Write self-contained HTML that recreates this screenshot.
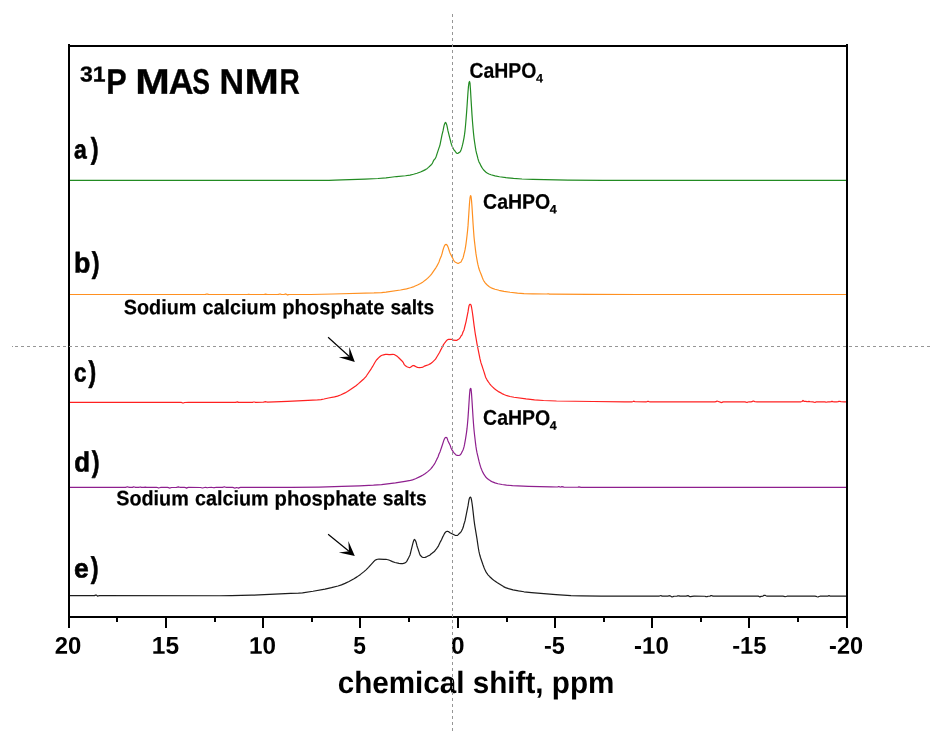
<!DOCTYPE html>
<html><head><meta charset="utf-8"><title>31P MAS NMR</title>
<style>html,body{margin:0;padding:0;background:#fff}svg{display:block;will-change:transform}</style></head>
<body>
<svg width="949" height="745" viewBox="0 0 949 745">
<rect width="949" height="745" fill="#fff"/>
<g>
<path d="M68.5 180.45L329 180.45L335 180.18L342 179.8L365 179.12L378 178.5L386 177.86L391 177.27L396.5 176.53L405.5 175.76L410 175.05L413.5 174.28L417 173.24L420.5 171.94L423.5 170.65L425.5 169.6L427 168.63L428.5 167.35L431.5 164.45L432 163.9L432.5 163L433.5 160.85L434 159.9L435 158.9L435.5 157.94L436 156.9L436.5 155.45L437 153.85L438.5 149.41L439 147.9L439.5 146.5L440 144.8L440.5 142.42L442 134.9L443 130.9L443.5 128.31L444 125.9L444.5 124.14L445 123L445.5 122.5L446 123L446.5 124.16L447 125.9L447.5 128.34L448 130.9L448.5 132.94L450 138.9L450.5 140.98L451 142.9L451.5 144.49L452 145.9L452.5 147.02L453.5 149.01L454 149.9L454.5 150.51L455 151L456 152.5L456.5 152.99L457 153.34L457.5 153.5L458 153.35L459 152.6L459.5 152.37L460 152L460.5 151.16L461 150L461.5 148.58L462 146.9L462.5 144.97L463 142.8L463.5 140.48L464 137.8L464.5 134.7L465 130.8L465.5 125.7L466 119.8L466.5 113.61L467 106.8L467.5 99.24L468 92L468.5 86.14L469 82.5L469.5 81.5L470 83.2L470.5 89.97L471 98.7L471.5 106.91L472 114.9L472.5 121.78L473 127.7L473.5 133.13L474 137.8L474.5 141.5L475.5 148.07L476 150.9L476.5 153.06L477 154.9L477.5 156.95L478 158.9L478.5 160.54L479 161.9L479.5 162.91L480 163.8L481 165.9L482 167.58L483 169.02L484 170.26L485 171.32L486 172.21L487.5 173.24L489 173.99L491 174.75L495 175.85L499.5 176.74L506 177.68L513.5 178.44L522 179.01L533 179.35L568 180.03L603 180.47L847 180.45" fill="none" stroke="#228b22" stroke-width="1.2" stroke-linejoin="round"/>
<path d="M68.5 294.5L204.5 294.49L205.5 294.37L206.5 294.03L207.5 294.16L208.5 294.45L213.5 294.5L247.5 294.48L248.5 294.23L250.5 294.5L263.5 294.5L264.5 294.39L265.5 294.06L267.5 294.49L277.5 294.5L278.5 294.45L279.5 294.04L280.5 294.17L281.5 294.48L283.5 294.49L284.5 294.29L285.5 293.94L286.5 294.34L287.5 295.03L288.5 294.62L289.5 294.5L310.5 294.48L333 293.98L374 292.95L381.5 292.55L386 292.06L400.5 289.99L406.5 288.82L410.5 287.78L414 286.57L417.5 285.04L420.5 283.46L423 281.89L425.5 280.06L427.5 278.38L429.5 276.44L430.5 275.34L431.5 274.06L436 267.54L437 265.9L438 264L438.5 263L439 261.9L439.5 260.44L440 258.9L441 256.85L441.5 255.43L442 253.85L443 249.95L443.5 248.35L444 246.9L444.5 245.79L445 245L445.5 244.49L446 244.4L446.5 244.56L447 245L447.5 245.81L448 246.9L448.5 248.36L449.5 251.49L450 252.9L450.5 253.96L452.5 257.86L453.5 259.94L454 260.8L455 261.9L455.5 262.25L458 263.5L458.5 263.32L459 263L460.5 262.26L461 261.9L461.5 260.96L462 259.85L462.5 258.99L463 257.9L463.5 256.06L464 253.9L464.5 252.03L465 249.9L465.5 247.12L466 243.8L466.5 240.01L467 235.7L467.5 231.29L468 225.9L468.5 218.55L469 210.7L469.5 203.25L470 197.8L470.5 195.57L471 196.2L471.5 200.22L472 206.8L473 222.8L473.5 230L474 236.7L474.5 241.69L475 245.75L475.5 250.09L476 253.9L476.5 256.99L477 259.8L477.5 262.52L478 264.9L478.5 266.98L479 268.8L479.5 270.32L480 271.6L481 274.06L482.5 278.04L483 279.24L483.5 280.28L484 281.11L485 282.55L486 283.79L487.5 285.34L489 286.56L490.5 287.46L492.5 288.37L495 289.24L499 290.29L504 291.34L510 292.27L517.5 293.09L524 293.55L533 293.79L546.5 294L548 293.76L548.5 293.78L549.5 294.17L550 294.21L551.5 294.09L588 294.45L639 294.5L847 294.5" fill="none" stroke="#ff9020" stroke-width="1.2" stroke-linejoin="round"/>
<path d="M68.5 402.45L181.5 402.47L182.5 402.87L183.5 403.01L184.5 402.5L188.5 402.45L235.5 402.44L237.5 401.88L238.5 402.35L239.5 402.46L251.5 402.44L252.5 402.32L253.5 401.99L254.5 402.01L255.5 402.32L256.5 402.4L262.5 402.25L263.5 402.13L264.5 401.82L265.5 401.7L266.5 401.96L267.5 402.07L287.5 401.29L308 400.28L317.5 399.89L321 399.59L324 399.01L328.5 398.02L334.5 396.89L337.5 396.09L340.5 394.96L345 392.91L347.5 391.53L350.5 389.59L356 385.66L358.5 383.65L362 380.46L364 378.68L365.5 377.08L366.5 375.79L371.5 368.3L372.5 366.68L375 362.24L376 360.71L377 359.49L378.5 357.88L380 356.52L381 355.79L382 355.28L383.5 354.81L385.5 354.41L387 354.35L389 354.55L390 354.67L393 354.43L394 354.52L394.5 354.67L395.5 355.19L397.5 356.6L398.5 357.48L402 360.96L403 362.1L403.5 363.04L404 364.14L404.5 364.81L405.5 365.77L406.5 366.52L407.5 367.05L409 367.53L409.5 367.62L410 367.51L410.5 367.24L411.5 366.53L413 365.61L413.5 365.47L414 365.61L417 367.16L417.5 367.34L419.5 367.53L421.5 367.46L422 367.4L422.5 367.26L423.5 366.69L424.5 366.07L426.5 365.41L428.5 364.69L430.5 363.64L432 362.58L433.5 361.17L435 359.63L435.5 359.06L436.5 357.47L439.5 352.52L440.5 350.41L442.5 346.8L443 345.63L443.5 344.64L445 342.52L446.5 340.67L447 340.15L447.5 339.78L448.5 339.4L449.5 339.39L451.5 339.38L452 339.47L452.5 339.86L453 340.15L456 340.44L456.5 340.4L457 340.18L458 339.5L459 338.9L459.5 338.47L460 337.9L460.5 337L461 336L461.5 335.53L462 334.9L462.5 333.54L463 332L463.5 331.04L464 329.9L464.5 327.9L465 325.75L465.5 323.85L466 321.85L468 311.9L468.5 308.56L469 305.8L469.5 304.77L470 304.3L470.5 304.33L471 305L471.5 307.01L472 310L472.5 313.27L473 316.9L473.5 320.9L474 324.8L475 332L475.5 335.1L476 337.9L476.5 340.94L477 343.85L477.5 346.42L479 353.9L479.5 356.48L480 358.9L480.5 360.98L481 362.9L481.5 364.4L482 365.8L482.5 367.39L484 371.9L484.5 373.5L485 375.2L485.5 376.78L486 378L487 379.82L488 381.43L489.5 383.52L491 385.31L492.5 386.88L494.5 388.69L496.5 390.24L499 391.89L502 393.6L504.5 394.77L507 395.7L510 396.5L514 397.24L526 398.95L534.5 399.86L543.5 400.52L556.5 401L593 401.52L625 401.82L632 401.81L633 401.54L634 401.19L635 401.76L646 401.79L647 401.62L648 401.28L649 401.65L650 401.8L715 401.8L716 401.71L717 401.03L719 401.79L720 401.91L721 402.54L722 402.42L723 401.87L725 401.8L745 401.83L747 402.56L748 402.01L749 401.81L751 401.8L752 401.71L753 401.1L754 401.17L755 401.73L757 401.8L801 401.8L802 401.49L803 400.39L804 401.41L805 401.23L806 401.4L807 401.75L809 401.43L810 401.76L813 401.87L814 402.25L815 402.35L816 401.93L817 401.81L824 401.8L825 401.86L826 402.23L828 401.81L830 401.8L831 401.68L832 401.33L833 401.64L834 401.8L837 401.8L838 401.69L839 401.34L840 401.42L841 401.74L844 401.8L847 401.8" fill="none" stroke="#ff2020" stroke-width="1.2" stroke-linejoin="round"/>
<path d="M68.5 487.45L125.5 487.41L127.5 486.75L128.5 487.18L129.5 487.43L131.5 487.45L132.5 487.34L133.5 486.9L134.5 487L135.5 487.39L137.5 487.45L138.5 487.43L140.5 486.97L141.5 487.31L142.5 487.44L143.5 487.44L145.5 487.1L146.5 487.37L148.5 487.45L156.5 487.45L157.5 487.51L158.5 488.03L160.5 487.46L167.5 487.46L168.5 487.65L169.5 488.05L171.5 487.48L176.5 487.41L178.5 486.92L179.5 487.23L180.5 487.43L184.5 487.45L185.5 487.58L186.5 488.13L187.5 487.64L188.5 487.45L200.5 487.48L202.5 487.98L204.5 487.5L205.5 487.46L207.5 487.73L208.5 487.5L211.5 487.45L212.5 487.48L213.5 487.71L214.5 487.66L215.5 487.47L222.5 487.43L224.5 486.78L225.5 487.27L226.5 487.44L232.5 487.45L233.5 487.59L234.5 488.07L235.5 487.88L236.5 487.51L237.5 487.75L238.5 488.09L239.5 487.61L240.5 487.46L291.5 487.43L319 487.03L342 486.43L359.5 485.78L373.5 485.15L381.5 484.58L395.5 482.87L405 481.36L410.5 480.4L412.5 479.87L415.5 478.72L420.5 476.37L423 475.03L425 473.76L427.5 471.87L429.5 470.09L431 468.55L432.5 466.76L434 464.66L434.5 463.88L435 462.99L436 460.98L437 458.9L438 457L439 453.95L440 451.9L441.5 447.45L442.5 444.47L443.5 441.36L444 439.9L444.5 438.79L445 438L445.5 437.53L446 437.4L446.5 437.51L447 438L447.5 439.36L448 440.9L449 442.95L450 444.9L451 447.9L451.5 448.92L452 449.85L453 451.4L454 452.8L455.5 454.44L456 454.9L456.5 455.18L457.5 455.46L458.5 455.49L459 455.41L459.5 455.23L460 454.95L460.5 454.54L461 453.95L462 451.9L462.5 451.02L463 449.95L463.5 448.6L464 446.9L464.5 444.64L465 441.95L465.5 439.08L466.5 432.55L467 428.7L467.5 423.81L468 417.9L468.5 410.59L469 402.8L469.5 395.09L470 389.5L470.5 388.4L471 388.8L471.5 393.42L472 400.7L473 416.8L473.5 423.7L474 429.7L474.5 434.48L475 438.7L475.5 443.08L476 446.9L476.5 450.05L477 452.7L477.5 454.88L478 456.9L478.5 459.1L479 461.2L479.5 463.09L480 464.84L480.5 466.47L481 467.97L481.5 469.33L482 470.55L483 472.64L484 474.43L485 475.98L486 477.27L487 478.3L488.5 479.53L490.5 480.87L492.5 481.91L495 482.89L498 483.73L502 484.52L506.5 485.15L512.5 485.62L528.5 486.36L551 486.95L557.5 487.02L558.5 486.68L559 486.69L560 487.04L561 486.95L562 486.69L564 487.11L575 487.26L577 487.27L578 487.19L579 486.89L581 487.29L607 487.46L847 487.45" fill="none" stroke="#8e1f8e" stroke-width="1.2" stroke-linejoin="round"/>
<path d="M68.5 595.7L93.5 595.7L94.5 595.62L95.5 595.12L96.5 595.03L97.5 596.13L98.5 595.79L99.5 595.7L219.5 595.74L231.5 595.66L251.5 595.22L269.5 594.47L290.5 593.39L298.5 593.2L302.5 592.84L313 591.28L325 589.13L331.5 587.68L338 585.98L341.5 584.85L345 583.41L349 581.47L354 578.74L357 576.88L360.5 574.4L364 571.64L366 569.86L368.5 567.35L371 564.6L373.5 561.79L374.5 560.84L375.5 560.08L376.5 559.56L377.5 559.26L379 559.13L384 559.35L386.5 559.47L388 559.75L389.5 560.3L392.5 561.66L395 562.47L399 563.45L401 563.7L402.5 563.64L403.5 563.43L405 562.88L405.5 562.6L406 562.2L406.5 561.62L407 560.9L408.5 558.04L409 556.95L409.5 556.03L410 554.9L410.5 552.99L411 550.9L412 546.9L412.5 544.84L413 542.9L413.5 541.22L414 540L414.5 539.4L415 540L415.5 540.75L416 542L416.5 543.89L417 545.95L417.5 547.48L418 548.9L418.5 550.44L419 551.9L419.5 553.49L420 554.9L420.5 555.57L421 556L421.5 556.56L422 557L422.5 557.28L423 557.43L424 557.5L425 557.33L426.5 556.81L428.5 555.74L429.5 555.35L430 555L431 554L431.5 553.62L432 553.33L434 551.78L435 550.73L436 549.48L437.5 547.37L438.5 545.83L440.5 541.6L441.5 539.7L442.5 537.39L443.5 535.51L444 534.5L444.5 533.58L445 532.75L445.5 532.16L446 531.79L446.5 531.5L447 531.39L448 531.45L448.5 531.6L449 531.92L450 532.7L453 534.28L455 535.28L455.5 535.46L456.5 535.5L457 535.47L457.5 535.35L458 534.9L459 533.8L460.5 532.47L461 531.9L461.5 530.98L462 529.9L462.5 528.97L463 527.85L463.5 526.01L464 523.95L464.5 522.53L465 520.9L465.5 518.44L466 515.8L467 510.9L468 505.9L468.5 502.74L469 499.8L469.5 498.17L470 497.3L470.5 497.14L471 497.9L471.5 499.95L472 503L472.5 506.7L473 510.9L473.5 515.44L474 519.85L474.5 523.55L475 526.9L475.5 529.97L476.5 535.86L477 538.9L477.5 542.29L478 545.77L478.5 549.01L479 551.68L479.5 553.88L480 555.79L480.5 557.49L481 559.03L483 564.78L484 567.45L484.5 568.69L485 569.84L485.5 570.9L486 571.85L487 573.46L488 574.79L489.5 576.44L492.5 579.23L494.5 580.86L497 582.6L503.5 586.6L505.5 587.59L508.5 588.61L513 589.81L518.5 590.94L524 591.78L531.5 592.55L556 594.63L571 595.59L581 595.94L601 596.21L659 596.19L660 595.78L661 595.6L662 596.17L667 596.19L668 596.06L669 595.72L670 595.79L672 596.9L673 596.63L674 596.25L677 596.18L678 595.77L679 595.92L680 596.2L686 596.17L688 595.61L690 596.69L691 596.6L692 596.28L694 596.2L705 596.23L706 596.71L707 596.73L708 596.24L710 596.11L711 595.56L712 595.68L713 596.15L718 596.2L758 596.2L759 596.43L760 597.03L761 596.36L763 596.05L764 595.36L765 595.25L766 595.76L767 596.17L783 596.2L784 596.3L785 596.73L787 596.21L815 596.2L816 596.29L817 596.75L818 597.02L819 596.49L820 596.22L827 596.2L828 596.04L829 595.59L830 596.04L831 596.2L847 596.2" fill="none" stroke="#1c1c1c" stroke-width="1.2" stroke-linejoin="round"/>
</g>
<g shape-rendering="crispEdges" fill="#000">
<rect x="68" y="44" width="2" height="574"/>
<rect x="846" y="44" width="2" height="574"/>
<rect x="68" y="45" width="780" height="2"/>
<rect x="68" y="616" width="780" height="2"/>
<rect x="68" y="617" width="2" height="11"/>
<rect x="165" y="617" width="2" height="11"/>
<rect x="262" y="617" width="2" height="11"/>
<rect x="359" y="617" width="2" height="11"/>
<rect x="457" y="617" width="2" height="11"/>
<rect x="554" y="617" width="2" height="11"/>
<rect x="651" y="617" width="2" height="11"/>
<rect x="748" y="617" width="2" height="11"/>
<rect x="846" y="617" width="2" height="11"/>
<rect x="116" y="617" width="2" height="5"/>
<rect x="214" y="617" width="2" height="5"/>
<rect x="311" y="617" width="2" height="5"/>
<rect x="408" y="617" width="2" height="5"/>
<rect x="506" y="617" width="2" height="5"/>
<rect x="603" y="617" width="2" height="5"/>
<rect x="700" y="617" width="2" height="5"/>
<rect x="797" y="617" width="2" height="5"/>
</g>
<line x1="328.1" y1="337.2" x2="349.3" y2="356.5" stroke="#000" stroke-width="1.15"/><polygon points="354.8,361.9 349.3,347.1 349.3,356.5 338.8,357.3" fill="#000"/>
<line x1="328.1" y1="534.2" x2="349.0" y2="551.3" stroke="#000" stroke-width="1.15"/><polygon points="354.8,555.9 348.3,541.1 349.0,551.3 338.8,552.5" fill="#000"/>
<text transform="translate(80.03 81.55) skewY(0.05) scale(1.0783 1.0098)" font-size="21.4" font-family="Liberation Sans, sans-serif" font-weight="bold" text-rendering="geometricPrecision" stroke="#000" stroke-width="0.3" stroke-linejoin="round">31</text>
<text transform="translate(106.16 93.80) skewY(0.05) scale(0.8642 1.0082)" font-size="35.5" font-family="Liberation Sans, sans-serif" font-weight="bold" text-rendering="geometricPrecision" stroke="#000" stroke-width="0.3" stroke-linejoin="round">P</text>
<text transform="translate(135.17 93.80) skewY(0.05) scale(1.1680 1.0082)" font-size="35.5" font-family="Liberation Sans, sans-serif" font-weight="bold" text-rendering="geometricPrecision" stroke="#000" stroke-width="0.3" stroke-linejoin="round">M</text>
<text transform="translate(168.68 93.80) skewY(0.05) scale(0.9667 1.0082)" font-size="35.5" font-family="Liberation Sans, sans-serif" font-weight="bold" text-rendering="geometricPrecision" stroke="#000" stroke-width="0.3" stroke-linejoin="round">A</text>
<text transform="translate(192.35 93.70) skewY(0.05) scale(0.7488 1.0039)" font-size="35.5" font-family="Liberation Sans, sans-serif" font-weight="bold" text-rendering="geometricPrecision" stroke="#000" stroke-width="0.3" stroke-linejoin="round">S</text>
<text transform="translate(219.44 93.80) skewY(0.05) scale(0.9600 1.0082)" font-size="35.5" font-family="Liberation Sans, sans-serif" font-weight="bold" text-rendering="geometricPrecision" stroke="#000" stroke-width="0.3" stroke-linejoin="round">N</text>
<text transform="translate(244.59 93.80) skewY(0.05) scale(1.1600 1.0082)" font-size="35.5" font-family="Liberation Sans, sans-serif" font-weight="bold" text-rendering="geometricPrecision" stroke="#000" stroke-width="0.3" stroke-linejoin="round">M</text>
<text transform="translate(279.62 93.80) skewY(0.05) scale(0.7912 1.0082)" font-size="35.5" font-family="Liberation Sans, sans-serif" font-weight="bold" text-rendering="geometricPrecision" stroke="#000" stroke-width="0.3" stroke-linejoin="round">R</text>
<text transform="translate(73.99 158.43) skewY(0.05) scale(0.8194 0.9397)" font-size="28" font-family="Liberation Sans, sans-serif" font-weight="bold" text-rendering="geometricPrecision" stroke="#000" stroke-width="0.6" stroke-linejoin="round">a</text>
<text transform="translate(90.71 158.56) skewY(0.05) scale(0.8353 1.0566)" font-size="28" font-family="Liberation Sans, sans-serif" font-weight="bold" text-rendering="geometricPrecision" stroke="#000" stroke-width="0.6" stroke-linejoin="round">)</text>
<text transform="translate(73.97 272.59) skewY(0.05) scale(0.9559 1.0143)" font-size="28" font-family="Liberation Sans, sans-serif" font-weight="bold" text-rendering="geometricPrecision" stroke="#000" stroke-width="0.6" stroke-linejoin="round">b</text>
<text transform="translate(91.71 272.66) skewY(0.05) scale(0.8353 1.0566)" font-size="28" font-family="Liberation Sans, sans-serif" font-weight="bold" text-rendering="geometricPrecision" stroke="#000" stroke-width="0.6" stroke-linejoin="round">)</text>
<text transform="translate(74.10 381.43) skewY(0.05) scale(0.8000 0.9460)" font-size="28" font-family="Liberation Sans, sans-serif" font-weight="bold" text-rendering="geometricPrecision" stroke="#000" stroke-width="0.6" stroke-linejoin="round">c</text>
<text transform="translate(88.41 381.64) skewY(0.05) scale(0.8235 1.0604)" font-size="28" font-family="Liberation Sans, sans-serif" font-weight="bold" text-rendering="geometricPrecision" stroke="#000" stroke-width="0.6" stroke-linejoin="round">)</text>
<text transform="translate(74.21 471.50) skewY(0.05) scale(0.9220 1.0000)" font-size="28" font-family="Liberation Sans, sans-serif" font-weight="bold" text-rendering="geometricPrecision" stroke="#000" stroke-width="0.6" stroke-linejoin="round">d</text>
<text transform="translate(91.71 471.68) skewY(0.05) scale(0.8353 1.0528)" font-size="28" font-family="Liberation Sans, sans-serif" font-weight="bold" text-rendering="geometricPrecision" stroke="#000" stroke-width="0.6" stroke-linejoin="round">)</text>
<text transform="translate(73.99 577.42) skewY(0.05) scale(0.9474 0.9587)" font-size="28" font-family="Liberation Sans, sans-serif" font-weight="bold" text-rendering="geometricPrecision" stroke="#000" stroke-width="0.6" stroke-linejoin="round">e</text>
<text transform="translate(90.71 577.66) skewY(0.05) scale(0.8353 1.0566)" font-size="28" font-family="Liberation Sans, sans-serif" font-weight="bold" text-rendering="geometricPrecision" stroke="#000" stroke-width="0.6" stroke-linejoin="round">)</text>
<text transform="translate(469.39 77.64) skewY(0.05) scale(0.9527 1.0414)" font-size="20.4" font-family="Liberation Sans, sans-serif" font-weight="bold" text-rendering="geometricPrecision" stroke="#000" stroke-width="0.2" stroke-linejoin="round">CaHPO</text>
<text transform="translate(536.10 82.60) skewY(0.05) scale(1.0370 1.0118)" font-size="12.2" font-family="Liberation Sans, sans-serif" font-weight="bold" text-rendering="geometricPrecision" stroke="#000" stroke-width="0.2" stroke-linejoin="round">4</text>
<text transform="translate(483.08 208.74) skewY(0.05) scale(0.9556 1.0345)" font-size="20.4" font-family="Liberation Sans, sans-serif" font-weight="bold" text-rendering="geometricPrecision" stroke="#000" stroke-width="0.2" stroke-linejoin="round">CaHPO</text>
<text transform="translate(549.80 213.60) skewY(0.05) scale(1.0222 1.0000)" font-size="12.2" font-family="Liberation Sans, sans-serif" font-weight="bold" text-rendering="geometricPrecision" stroke="#000" stroke-width="0.2" stroke-linejoin="round">4</text>
<text transform="translate(483.08 424.84) skewY(0.05) scale(0.9556 1.0414)" font-size="20.4" font-family="Liberation Sans, sans-serif" font-weight="bold" text-rendering="geometricPrecision" stroke="#000" stroke-width="0.2" stroke-linejoin="round">CaHPO</text>
<text transform="translate(549.80 429.70) skewY(0.05) scale(1.0222 1.0000)" font-size="12.2" font-family="Liberation Sans, sans-serif" font-weight="bold" text-rendering="geometricPrecision" stroke="#000" stroke-width="0.2" stroke-linejoin="round">4</text>
<text transform="translate(123.81 314.14) skewY(0.05) scale(0.9895 1.0441)" font-size="20" font-family="Liberation Sans, sans-serif" font-weight="bold" text-rendering="geometricPrecision" stroke="#000" stroke-width="0.2" stroke-linejoin="round">Sodium</text>
<text transform="translate(202.56 314.14) skewY(0.05) scale(0.9890 1.0441)" font-size="20" font-family="Liberation Sans, sans-serif" font-weight="bold" text-rendering="geometricPrecision" stroke="#000" stroke-width="0.2" stroke-linejoin="round">calcium</text>
<text transform="translate(282.14 314.23) skewY(0.05) scale(1.0116 1.0507)" font-size="20" font-family="Liberation Sans, sans-serif" font-weight="bold" text-rendering="geometricPrecision" stroke="#000" stroke-width="0.2" stroke-linejoin="round">phosphate</text>
<text transform="translate(390.42 314.14) skewY(0.05) scale(0.9605 1.0441)" font-size="20" font-family="Liberation Sans, sans-serif" font-weight="bold" text-rendering="geometricPrecision" stroke="#000" stroke-width="0.2" stroke-linejoin="round">salts</text>
<text transform="translate(116.21 505.34) skewY(0.05) scale(0.9895 1.0441)" font-size="20" font-family="Liberation Sans, sans-serif" font-weight="bold" text-rendering="geometricPrecision" stroke="#000" stroke-width="0.2" stroke-linejoin="round">Sodium</text>
<text transform="translate(194.96 505.34) skewY(0.05) scale(0.9890 1.0441)" font-size="20" font-family="Liberation Sans, sans-serif" font-weight="bold" text-rendering="geometricPrecision" stroke="#000" stroke-width="0.2" stroke-linejoin="round">calcium</text>
<text transform="translate(274.54 505.43) skewY(0.05) scale(1.0116 1.0507)" font-size="20" font-family="Liberation Sans, sans-serif" font-weight="bold" text-rendering="geometricPrecision" stroke="#000" stroke-width="0.2" stroke-linejoin="round">phosphate</text>
<text transform="translate(382.82 505.34) skewY(0.05) scale(0.9605 1.0441)" font-size="20" font-family="Liberation Sans, sans-serif" font-weight="bold" text-rendering="geometricPrecision" stroke="#000" stroke-width="0.2" stroke-linejoin="round">salts</text>
<text transform="translate(337.69 693.00) scale(0.9716 1.0090)" font-size="30.5" font-family="Liberation Sans, sans-serif" font-weight="bold" text-rendering="geometricPrecision">chemical shift, ppm</text>
<text transform="translate(54.65 653.75) skewY(0.05) scale(0.9960 1.0059)" font-size="24" font-family="Liberation Sans, sans-serif" font-weight="bold" text-rendering="geometricPrecision">20</text>
<text transform="translate(151.87 653.74) skewY(0.05) scale(1.0204 1.0209)" font-size="24" font-family="Liberation Sans, sans-serif" font-weight="bold" text-rendering="geometricPrecision">15</text>
<text transform="translate(249.08 653.75) skewY(0.05) scale(1.0103 1.0059)" font-size="24" font-family="Liberation Sans, sans-serif" font-weight="bold" text-rendering="geometricPrecision">10</text>
<text transform="translate(353.19 653.74) skewY(0.05) scale(0.9500 1.0209)" font-size="24" font-family="Liberation Sans, sans-serif" font-weight="bold" text-rendering="geometricPrecision">5</text>
<text transform="translate(450.89 653.75) skewY(0.05) scale(1.0133 1.0059)" font-size="24" font-family="Liberation Sans, sans-serif" font-weight="bold" text-rendering="geometricPrecision">0</text>
<text transform="translate(544.02 653.74) skewY(0.05) scale(0.9772 1.0209)" font-size="24" font-family="Liberation Sans, sans-serif" font-weight="bold" text-rendering="geometricPrecision">-5</text>
<text transform="translate(634.10 653.75) skewY(0.05) scale(0.9985 1.0059)" font-size="24" font-family="Liberation Sans, sans-serif" font-weight="bold" text-rendering="geometricPrecision">-10</text>
<text transform="translate(732.21 653.74) skewY(0.05) scale(0.9879 1.0209)" font-size="24" font-family="Liberation Sans, sans-serif" font-weight="bold" text-rendering="geometricPrecision">-15</text>
<text transform="translate(829.12 653.75) skewY(0.05) scale(0.9802 1.0059)" font-size="24" font-family="Liberation Sans, sans-serif" font-weight="bold" text-rendering="geometricPrecision">-20</text>
<g shape-rendering="crispEdges" fill="#969696">
<rect x="12" y="346" width="1" height="1"/>
<rect x="15" y="346" width="3" height="1"/>
<rect x="21" y="346" width="3" height="1"/>
<rect x="27" y="346" width="3" height="1"/>
<rect x="33" y="346" width="3" height="1"/>
<rect x="39" y="346" width="3" height="1"/>
<rect x="45" y="346" width="3" height="1"/>
<rect x="51" y="346" width="3" height="1"/>
<rect x="57" y="346" width="3" height="1"/>
<rect x="63" y="346" width="3" height="1"/>
<rect x="69" y="346" width="3" height="1"/>
<rect x="75" y="346" width="3" height="1"/>
<rect x="81" y="346" width="3" height="1"/>
<rect x="87" y="346" width="3" height="1"/>
<rect x="93" y="346" width="3" height="1"/>
<rect x="99" y="346" width="3" height="1"/>
<rect x="105" y="346" width="3" height="1"/>
<rect x="111" y="346" width="3" height="1"/>
<rect x="117" y="346" width="3" height="1"/>
<rect x="123" y="346" width="3" height="1"/>
<rect x="129" y="346" width="3" height="1"/>
<rect x="135" y="346" width="3" height="1"/>
<rect x="141" y="346" width="3" height="1"/>
<rect x="147" y="346" width="3" height="1"/>
<rect x="153" y="346" width="3" height="1"/>
<rect x="159" y="346" width="3" height="1"/>
<rect x="165" y="346" width="3" height="1"/>
<rect x="171" y="346" width="3" height="1"/>
<rect x="177" y="346" width="3" height="1"/>
<rect x="183" y="346" width="3" height="1"/>
<rect x="189" y="346" width="3" height="1"/>
<rect x="195" y="346" width="3" height="1"/>
<rect x="201" y="346" width="3" height="1"/>
<rect x="207" y="346" width="3" height="1"/>
<rect x="213" y="346" width="3" height="1"/>
<rect x="219" y="346" width="3" height="1"/>
<rect x="225" y="346" width="3" height="1"/>
<rect x="231" y="346" width="3" height="1"/>
<rect x="237" y="346" width="3" height="1"/>
<rect x="243" y="346" width="3" height="1"/>
<rect x="249" y="346" width="3" height="1"/>
<rect x="255" y="346" width="3" height="1"/>
<rect x="261" y="346" width="3" height="1"/>
<rect x="267" y="346" width="3" height="1"/>
<rect x="273" y="346" width="3" height="1"/>
<rect x="279" y="346" width="3" height="1"/>
<rect x="285" y="346" width="3" height="1"/>
<rect x="291" y="346" width="3" height="1"/>
<rect x="297" y="346" width="3" height="1"/>
<rect x="303" y="346" width="3" height="1"/>
<rect x="309" y="346" width="3" height="1"/>
<rect x="315" y="346" width="3" height="1"/>
<rect x="321" y="346" width="3" height="1"/>
<rect x="327" y="346" width="3" height="1"/>
<rect x="333" y="346" width="3" height="1"/>
<rect x="339" y="346" width="3" height="1"/>
<rect x="345" y="346" width="3" height="1"/>
<rect x="351" y="346" width="3" height="1"/>
<rect x="357" y="346" width="3" height="1"/>
<rect x="363" y="346" width="3" height="1"/>
<rect x="369" y="346" width="3" height="1"/>
<rect x="375" y="346" width="3" height="1"/>
<rect x="381" y="346" width="3" height="1"/>
<rect x="387" y="346" width="3" height="1"/>
<rect x="393" y="346" width="3" height="1"/>
<rect x="399" y="346" width="3" height="1"/>
<rect x="405" y="346" width="3" height="1"/>
<rect x="411" y="346" width="3" height="1"/>
<rect x="417" y="346" width="3" height="1"/>
<rect x="423" y="346" width="3" height="1"/>
<rect x="429" y="346" width="3" height="1"/>
<rect x="435" y="346" width="3" height="1"/>
<rect x="441" y="346" width="3" height="1"/>
<rect x="447" y="346" width="3" height="1"/>
<rect x="453" y="346" width="3" height="1"/>
<rect x="459" y="346" width="3" height="1"/>
<rect x="465" y="346" width="3" height="1"/>
<rect x="471" y="346" width="3" height="1"/>
<rect x="477" y="346" width="3" height="1"/>
<rect x="483" y="346" width="3" height="1"/>
<rect x="489" y="346" width="3" height="1"/>
<rect x="495" y="346" width="3" height="1"/>
<rect x="501" y="346" width="3" height="1"/>
<rect x="507" y="346" width="3" height="1"/>
<rect x="513" y="346" width="3" height="1"/>
<rect x="519" y="346" width="3" height="1"/>
<rect x="525" y="346" width="3" height="1"/>
<rect x="531" y="346" width="3" height="1"/>
<rect x="537" y="346" width="3" height="1"/>
<rect x="543" y="346" width="3" height="1"/>
<rect x="549" y="346" width="3" height="1"/>
<rect x="555" y="346" width="3" height="1"/>
<rect x="561" y="346" width="3" height="1"/>
<rect x="567" y="346" width="3" height="1"/>
<rect x="573" y="346" width="3" height="1"/>
<rect x="579" y="346" width="3" height="1"/>
<rect x="585" y="346" width="3" height="1"/>
<rect x="591" y="346" width="3" height="1"/>
<rect x="597" y="346" width="3" height="1"/>
<rect x="603" y="346" width="3" height="1"/>
<rect x="609" y="346" width="3" height="1"/>
<rect x="615" y="346" width="3" height="1"/>
<rect x="621" y="346" width="3" height="1"/>
<rect x="627" y="346" width="3" height="1"/>
<rect x="633" y="346" width="3" height="1"/>
<rect x="639" y="346" width="3" height="1"/>
<rect x="645" y="346" width="3" height="1"/>
<rect x="651" y="346" width="3" height="1"/>
<rect x="657" y="346" width="3" height="1"/>
<rect x="663" y="346" width="3" height="1"/>
<rect x="669" y="346" width="3" height="1"/>
<rect x="675" y="346" width="3" height="1"/>
<rect x="681" y="346" width="3" height="1"/>
<rect x="687" y="346" width="3" height="1"/>
<rect x="693" y="346" width="3" height="1"/>
<rect x="699" y="346" width="3" height="1"/>
<rect x="705" y="346" width="3" height="1"/>
<rect x="711" y="346" width="3" height="1"/>
<rect x="717" y="346" width="3" height="1"/>
<rect x="723" y="346" width="3" height="1"/>
<rect x="729" y="346" width="3" height="1"/>
<rect x="735" y="346" width="3" height="1"/>
<rect x="741" y="346" width="3" height="1"/>
<rect x="747" y="346" width="3" height="1"/>
<rect x="753" y="346" width="3" height="1"/>
<rect x="759" y="346" width="3" height="1"/>
<rect x="765" y="346" width="3" height="1"/>
<rect x="771" y="346" width="3" height="1"/>
<rect x="777" y="346" width="3" height="1"/>
<rect x="783" y="346" width="3" height="1"/>
<rect x="789" y="346" width="3" height="1"/>
<rect x="795" y="346" width="3" height="1"/>
<rect x="801" y="346" width="3" height="1"/>
<rect x="807" y="346" width="3" height="1"/>
<rect x="813" y="346" width="3" height="1"/>
<rect x="819" y="346" width="3" height="1"/>
<rect x="825" y="346" width="3" height="1"/>
<rect x="831" y="346" width="3" height="1"/>
<rect x="837" y="346" width="3" height="1"/>
<rect x="843" y="346" width="3" height="1"/>
<rect x="849" y="346" width="3" height="1"/>
<rect x="855" y="346" width="3" height="1"/>
<rect x="861" y="346" width="3" height="1"/>
<rect x="867" y="346" width="3" height="1"/>
<rect x="873" y="346" width="3" height="1"/>
<rect x="879" y="346" width="3" height="1"/>
<rect x="885" y="346" width="3" height="1"/>
<rect x="891" y="346" width="3" height="1"/>
<rect x="897" y="346" width="3" height="1"/>
<rect x="903" y="346" width="3" height="1"/>
<rect x="909" y="346" width="3" height="1"/>
<rect x="915" y="346" width="3" height="1"/>
<rect x="921" y="346" width="3" height="1"/>
<rect x="927" y="346" width="3" height="1"/>
<rect x="452" y="14" width="1" height="3"/>
<rect x="452" y="20" width="1" height="3"/>
<rect x="452" y="26" width="1" height="3"/>
<rect x="452" y="32" width="1" height="3"/>
<rect x="452" y="38" width="1" height="3"/>
<rect x="452" y="44" width="1" height="3"/>
<rect x="452" y="50" width="1" height="3"/>
<rect x="452" y="56" width="1" height="3"/>
<rect x="452" y="62" width="1" height="3"/>
<rect x="452" y="68" width="1" height="3"/>
<rect x="452" y="74" width="1" height="3"/>
<rect x="452" y="80" width="1" height="3"/>
<rect x="452" y="86" width="1" height="3"/>
<rect x="452" y="92" width="1" height="3"/>
<rect x="452" y="98" width="1" height="3"/>
<rect x="452" y="104" width="1" height="3"/>
<rect x="452" y="110" width="1" height="3"/>
<rect x="452" y="116" width="1" height="3"/>
<rect x="452" y="122" width="1" height="3"/>
<rect x="452" y="128" width="1" height="3"/>
<rect x="452" y="134" width="1" height="3"/>
<rect x="452" y="140" width="1" height="3"/>
<rect x="452" y="146" width="1" height="3"/>
<rect x="452" y="152" width="1" height="3"/>
<rect x="452" y="158" width="1" height="3"/>
<rect x="452" y="164" width="1" height="3"/>
<rect x="452" y="170" width="1" height="3"/>
<rect x="452" y="176" width="1" height="3"/>
<rect x="452" y="182" width="1" height="3"/>
<rect x="452" y="188" width="1" height="3"/>
<rect x="452" y="194" width="1" height="3"/>
<rect x="452" y="200" width="1" height="3"/>
<rect x="452" y="206" width="1" height="3"/>
<rect x="452" y="212" width="1" height="3"/>
<rect x="452" y="218" width="1" height="3"/>
<rect x="452" y="224" width="1" height="3"/>
<rect x="452" y="230" width="1" height="3"/>
<rect x="452" y="236" width="1" height="3"/>
<rect x="452" y="242" width="1" height="3"/>
<rect x="452" y="248" width="1" height="3"/>
<rect x="452" y="254" width="1" height="3"/>
<rect x="452" y="260" width="1" height="3"/>
<rect x="452" y="266" width="1" height="3"/>
<rect x="452" y="272" width="1" height="3"/>
<rect x="452" y="278" width="1" height="3"/>
<rect x="452" y="284" width="1" height="3"/>
<rect x="452" y="290" width="1" height="3"/>
<rect x="452" y="296" width="1" height="3"/>
<rect x="452" y="302" width="1" height="3"/>
<rect x="452" y="308" width="1" height="3"/>
<rect x="452" y="314" width="1" height="3"/>
<rect x="452" y="320" width="1" height="3"/>
<rect x="452" y="326" width="1" height="3"/>
<rect x="452" y="332" width="1" height="3"/>
<rect x="452" y="338" width="1" height="3"/>
<rect x="452" y="344" width="1" height="3"/>
<rect x="452" y="350" width="1" height="3"/>
<rect x="452" y="356" width="1" height="3"/>
<rect x="452" y="362" width="1" height="3"/>
<rect x="452" y="368" width="1" height="3"/>
<rect x="452" y="374" width="1" height="3"/>
<rect x="452" y="380" width="1" height="3"/>
<rect x="452" y="386" width="1" height="3"/>
<rect x="452" y="392" width="1" height="3"/>
<rect x="452" y="398" width="1" height="3"/>
<rect x="452" y="404" width="1" height="3"/>
<rect x="452" y="410" width="1" height="3"/>
<rect x="452" y="416" width="1" height="3"/>
<rect x="452" y="422" width="1" height="3"/>
<rect x="452" y="428" width="1" height="3"/>
<rect x="452" y="434" width="1" height="3"/>
<rect x="452" y="440" width="1" height="3"/>
<rect x="452" y="446" width="1" height="3"/>
<rect x="452" y="452" width="1" height="3"/>
<rect x="452" y="458" width="1" height="3"/>
<rect x="452" y="464" width="1" height="3"/>
<rect x="452" y="470" width="1" height="3"/>
<rect x="452" y="476" width="1" height="3"/>
<rect x="452" y="482" width="1" height="3"/>
<rect x="452" y="488" width="1" height="3"/>
<rect x="452" y="494" width="1" height="3"/>
<rect x="452" y="500" width="1" height="3"/>
<rect x="452" y="506" width="1" height="3"/>
<rect x="452" y="512" width="1" height="3"/>
<rect x="452" y="518" width="1" height="3"/>
<rect x="452" y="524" width="1" height="3"/>
<rect x="452" y="530" width="1" height="3"/>
<rect x="452" y="536" width="1" height="3"/>
<rect x="452" y="542" width="1" height="3"/>
<rect x="452" y="548" width="1" height="3"/>
<rect x="452" y="554" width="1" height="3"/>
<rect x="452" y="560" width="1" height="3"/>
<rect x="452" y="566" width="1" height="3"/>
<rect x="452" y="572" width="1" height="3"/>
<rect x="452" y="578" width="1" height="3"/>
<rect x="452" y="584" width="1" height="3"/>
<rect x="452" y="590" width="1" height="3"/>
<rect x="452" y="596" width="1" height="3"/>
<rect x="452" y="602" width="1" height="3"/>
<rect x="452" y="608" width="1" height="3"/>
<rect x="452" y="614" width="1" height="3"/>
<rect x="452" y="620" width="1" height="3"/>
<rect x="452" y="626" width="1" height="3"/>
<rect x="452" y="632" width="1" height="3"/>
<rect x="452" y="638" width="1" height="3"/>
<rect x="452" y="644" width="1" height="3"/>
<rect x="452" y="650" width="1" height="3"/>
<rect x="452" y="656" width="1" height="3"/>
<rect x="452" y="662" width="1" height="3"/>
<rect x="452" y="668" width="1" height="3"/>
<rect x="452" y="674" width="1" height="3"/>
<rect x="452" y="680" width="1" height="3"/>
<rect x="452" y="686" width="1" height="3"/>
<rect x="452" y="692" width="1" height="3"/>
<rect x="452" y="698" width="1" height="3"/>
<rect x="452" y="704" width="1" height="3"/>
<rect x="452" y="710" width="1" height="3"/>
<rect x="452" y="716" width="1" height="3"/>
<rect x="452" y="722" width="1" height="3"/>
<rect x="452" y="728" width="1" height="3"/>
</g>
</svg>
</body></html>
